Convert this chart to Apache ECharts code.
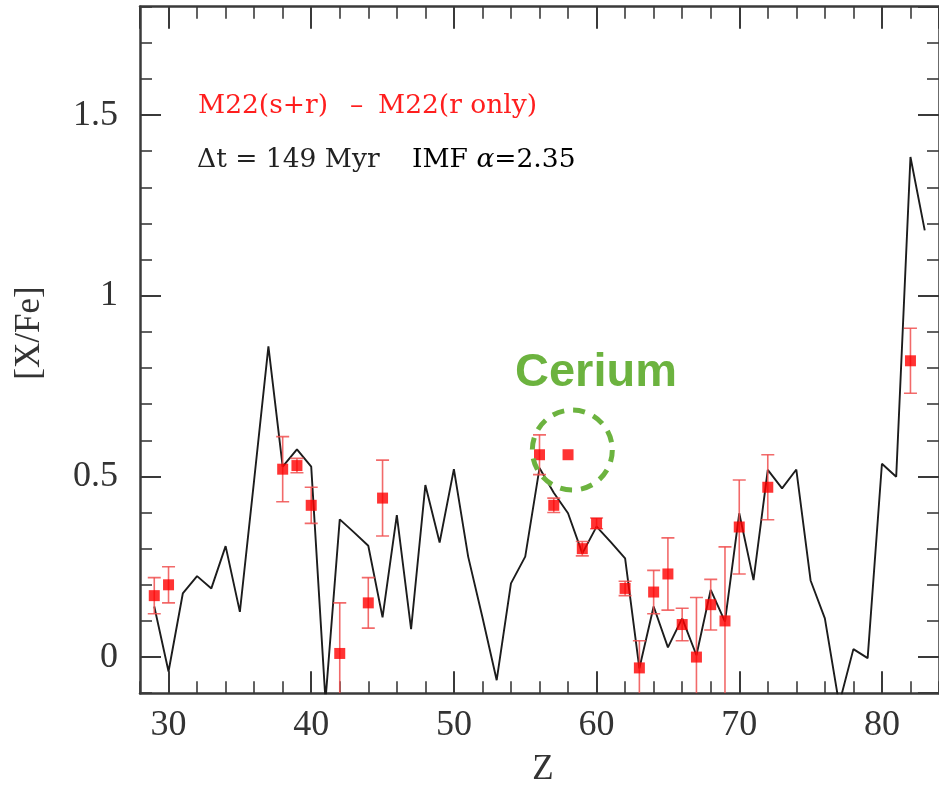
<!DOCTYPE html>
<html><head><meta charset="utf-8">
<script src="https://cdn.jsdelivr.net/npm/echarts@6/dist/echarts.min.js"></script>
<style>html,body{margin:0;padding:0;background:#fff}#c{width:939px;height:787px}</style>
</head><body><div id="c"></div>
<script>
// ---- data ----
const lineZ = [29,30,31,32,33,34,35,36,37,38,39,40,41,42,43,44,45,46,47,48,49,50,51,52,53,54,55,56,57,58,59,60,61,62,63,64,65,66,67,68,69,70,71,72,73,74,75,76,77,78,79,80,81,82,83];
const lineV = [0.14,-0.04,0.176,0.224,0.19,0.307,0.125,0.49,0.86,0.527,0.575,0.527,-0.12,0.381,0.345,0.308,0.11,0.393,0.077,0.476,0.317,0.52,0.278,0.11,-0.064,0.204,0.278,0.523,0.455,0.398,0.287,0.361,0.318,0.273,-0.031,0.14,0.027,0.107,0.005,0.186,0.098,0.398,0.213,0.518,0.467,0.519,0.212,0.107,-0.13,0.022,-0.003,0.535,0.499,1.384,1.181];

const pointZ   = [29,30,38,39,40,42,44,45,56,57,58,59,60,62,63,64,65,66,67,68,69,70,72,82];
const pointV   = [0.17,0.20,0.52,0.53,0.42,0.01,0.15,0.44,0.56,0.42,0.56,0.30,0.37,0.19,-0.03,0.18,0.23,0.09,0.00,0.145,0.10,0.36,0.47,0.82];
const pointErr = [0.05,0.05,0.09,0.02,0.05,0.14,0.07,0.105,0.055,0.02,0,0.02,0.015,0.02,0.075,0.06,0.10,0.045,0.165,0.07,0.205,0.13,0.09,0.09];

const xName = 'Z';
const yName = '[X/Fe]';
const redLabel = ['M22(s+r)', '–', 'M22(r only)'];
const blackLabel1 = 'Δt = 149 Myr';
const blackLabel2 = 'IMF ';
const blackLabel3 = '=2.35';
const highlightText = 'Cerium';
const highlightAt = [58.3, 0.573];

// ---- chart ----
const X_MIN = 28, X_MAX = 84, Y_MIN = -0.1, Y_MAX = 1.8;
const AX = '#3a3a3a';
const labelFont = {fontFamily: 'Liberation Serif', fontSize: 36, color: '#333'};

function xAxisDef(pos, major) {
  return {
    type: 'value', position: pos, min: X_MIN, max: X_MAX,
    ...(major ? {minInterval: 10, maxInterval: 10} : {interval: 2}),
    axisLine: {show: major, onZero: false, lineStyle: {color: AX, width: 2.5}},
    axisTick: {show: true, inside: true, length: major ? 22 : 12, lineStyle: {color: AX, width: major ? 2 : 1.6}},
    axisLabel: (major && pos === 'bottom') ? {show: true, showMinLabel: false, showMaxLabel: false, margin: 14, ...labelFont} : {show: false},
    splitLine: {show: false}
  };
}
function yAxisDef(pos, major) {
  return {
    type: 'value', position: pos, min: Y_MIN, max: Y_MAX,
    ...(major ? {minInterval: 0.5, maxInterval: 0.5} : {interval: 0.1}),
    axisLine: {show: major, onZero: false, lineStyle: {color: AX, width: 2.5}},
    axisTick: {show: true, inside: true, length: major ? 21 : 12, lineStyle: {color: AX, width: major ? 2 : 1.6}},
    axisLabel: (major && pos === 'left') ? {show: true, showMinLabel: false, showMaxLabel: false, margin: 22, ...labelFont} : {show: false},
    splitLine: {show: false}
  };
}

const chart = echarts.init(document.getElementById('c'), null, {renderer: 'canvas'});
const option = {
  animation: false,
  backgroundColor: '#ffffff',
  grid: {left: 140, right: -3, top: 6.7, bottom: 93.8, containLabel: false},
  xAxis: [xAxisDef('bottom', true), xAxisDef('bottom', false), xAxisDef('top', true), xAxisDef('top', false)],
  yAxis: [yAxisDef('left', true), yAxisDef('left', false), yAxisDef('right', true), yAxisDef('right', false)],
  series: [
    {
      type: 'line', xAxisIndex: 0, yAxisIndex: 0,
      data: lineZ.map((z, i) => [z, lineV[i]]),
      symbol: 'none', showSymbol: false, clip: true,
      lineStyle: {color: '#1c1c1c', width: 1.9}, z: 2
    },
    {
      type: 'custom', xAxisIndex: 0, yAxisIndex: 0, clip: true, z: 3,
      data: pointZ.map((z, i) => [z, pointV[i] - pointErr[i], pointV[i] + pointErr[i]]),
      encode: {x: 0, y: [1, 2]},
      renderItem: function (params, api) {
        const z = api.value(0), lo0 = api.value(1), hi0 = api.value(2);
        if (hi0 - lo0 <= 0) return null;
        const lo = Math.max(lo0, Y_MIN), hi = Math.min(hi0, Y_MAX);
        const p1 = api.coord([z, lo]), p2 = api.coord([z, hi]);
        const hw = 6.5;
        const st = {stroke: 'rgba(240,80,80,0.85)', lineWidth: 1.6};
        const ch = [{type: 'line', shape: {x1: p1[0], y1: p1[1], x2: p2[0], y2: p2[1]}, style: st}];
        if (hi0 <= Y_MAX) ch.push({type: 'line', shape: {x1: p2[0] - hw, y1: p2[1], x2: p2[0] + hw, y2: p2[1]}, style: st});
        if (lo0 >= Y_MIN) ch.push({type: 'line', shape: {x1: p1[0] - hw, y1: p1[1], x2: p1[0] + hw, y2: p1[1]}, style: st});
        return {type: 'group', children: ch};
      }
    },
    {
      type: 'scatter', xAxisIndex: 0, yAxisIndex: 0, z: 4,
      symbol: 'rect', symbolSize: 11,
      itemStyle: {color: '#ff0000'},
      data: pointZ.map((z, i) => [z, pointV[i]])
    }
  ]
};
chart.setOption(option);

const c = chart.convertToPixel({xAxisIndex: 0, yAxisIndex: 0}, highlightAt);
const annFont = 'DejaVu Serif';
chart.setOption({
  graphic: [
    {type: 'text', left: 198, top: 93, style: {text: redLabel[0], font: '26.5px "DejaVu Serif"', fill: '#ff1e1e'}},
    {type: 'text', left: 350, top: 93, style: {text: redLabel[1], font: '26.5px "DejaVu Serif"', fill: '#ff1e1e'}},
    {type: 'text', left: 378, top: 93, style: {text: redLabel[2], font: '26.5px "DejaVu Serif"', fill: '#ff1e1e'}},
    {type: 'text', left: 197, top: 147, style: {text: blackLabel1, font: '26.5px "DejaVu Serif"', fill: '#222'}},
    {type: 'text', left: 412, top: 147, style: {
      text: '{n|' + blackLabel2 + '}{a|α}{n|' + blackLabel3 + '}',
      rich: {n: {fontFamily: annFont, fontSize: 26.5, color: '#222'}, a: {fontFamily: annFont, fontSize: 26.5, fontStyle: 'italic', color: '#222'}}
    }},
    {type: 'text', x: 30, y: 333, rotation: Math.PI / 2, style: {text: yName, fontFamily: 'Liberation Serif', fontSize: 35, fill: '#333', align: 'center', verticalAlign: 'middle'}},
    {type: 'text', x: 543, y: 770, style: {text: xName, fontFamily: 'Liberation Serif', fontSize: 35, fill: '#333', align: 'center', verticalAlign: 'middle'}},
    {type: 'text', x: 596, y: 373, style: {text: highlightText, fontFamily: 'Liberation Sans', fontWeight: 'bold', fontSize: 47, fill: '#6cb33f', align: 'center', verticalAlign: 'middle'}},
    {type: 'circle', shape: {cx: c[0], cy: c[1], r: 40}, style: {fill: 'none', stroke: '#6cb33f', lineWidth: 5, lineDash: [12, 9]}, z: 100}
  ]
});
</script>
</body></html>
